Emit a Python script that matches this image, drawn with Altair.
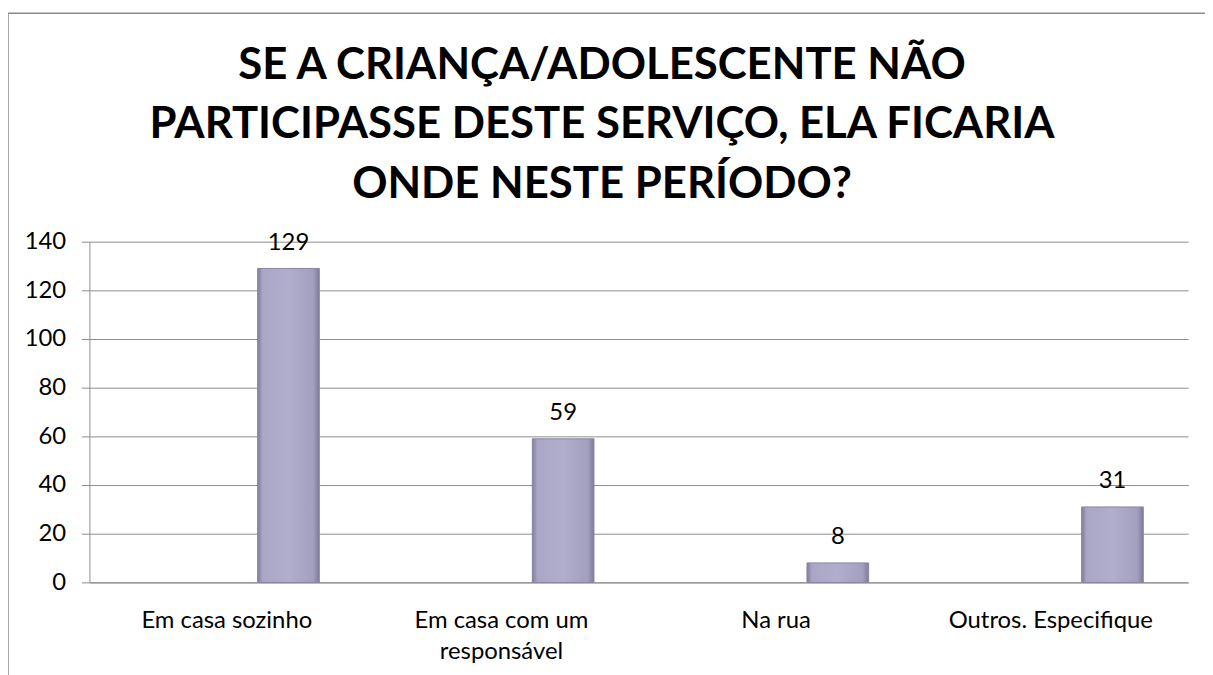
import altair as alt
import pandas as pd

categories = ["Em casa sozinho", "Em casa com um responsável", "Na rua", "Outros. Especifique"]
values = [129, 59, 8, 31]
series_slots = ["Série 1", "Série 2", "Série 3"]
bar_series = "Série 3"
y_ticks = [0, 20, 40, 60, 80, 100, 120, 140]
title_lines = ["SE A CRIANÇA/ADOLESCENTE NÃO", "PARTICIPASSE DESTE SERVIÇO, ELA FICARIA", "ONDE NESTE PERÍODO?"]

df = pd.DataFrame({"categoria": categories, "valor": values, "serie": [bar_series] * len(categories)})
df_title = pd.DataFrame({"titulo": ["\n".join(title_lines)]})

FONT = "Lato"
TFONT = "Lato"
W, H = 1106, 343

x_enc = alt.X("categoria:N", sort=categories, title=None,
              scale=alt.Scale(paddingInner=0, paddingOuter=0),
              axis=alt.Axis(labelFont=FONT, labelFontSize=24, labelColor="#000000",
                            labelAngle=0, ticks=False, domain=True, domainColor="#8c8c8c",
                            labelPadding=26, labelLineHeight=32, labelLimit=300,
                            labelExpr="datum.label == 'Em casa com um responsável' ? ['Em casa com um', 'responsável'] : datum.label"))
xoff = alt.XOffset("serie:N", scale=alt.Scale(domain=series_slots, paddingInner=0, paddingOuter=0.726))
y_enc = alt.Y("valor:Q", title=None,
              scale=alt.Scale(domain=[0, 140], nice=False),
              axis=alt.Axis(values=y_ticks, labelFont=FONT, labelFontSize=24, labelColor="#000000",
                            tickSize=8, tickColor="#8c8c8c", domainColor="#8c8c8c",
                            gridColor="#8c8c8c", gridWidth=1, labelPadding=16))

grad = alt.LinearGradient(
    gradient="linear", x1=0, y1=0, x2=1, y2=0,
    stops=[alt.GradientStop(offset=0, color="#7f7b99"),
           alt.GradientStop(offset=0.08, color="#a9a6c6"),
           alt.GradientStop(offset=0.5, color="#b0adcd"),
           alt.GradientStop(offset=0.9, color="#a29fbf"),
           alt.GradientStop(offset=1, color="#7f7b99")])

bars = alt.Chart(df).mark_bar(color=grad, stroke="#8a86a4", strokeWidth=1).encode(
    x=x_enc, xOffset=xoff, y=y_enc)

labels = alt.Chart(df).mark_text(font=FONT, fontSize=24, color="#000000", baseline="middle", dy=-26).encode(
    x=alt.X("categoria:N", sort=categories), xOffset=alt.XOffset("serie:N"), y="valor:Q", text="valor:Q")

border = alt.Chart(df_title).mark_rect(fill=None, stroke="#8c8c8c", strokeWidth=1.5, clip=False).encode(
    x=alt.value(-82), x2=alt.value(1200), y=alt.value(-230), y2=alt.value(500))

title = alt.Chart(df_title).mark_text(font=TFONT, fontSize=44, fontWeight="bold", color="#000000",
                                      lineBreak="\n", lineHeight=60, align="center", baseline="top").encode(
    x=alt.value(516), y=alt.value(-199), text="titulo:N")

chart = alt.layer(bars, labels, border, title).properties(
    width=W, height=H,
    padding={"left": 82, "top": 233, "right": 17, "bottom": 91},
    autosize=alt.AutoSizeParams(type="none"),
).configure_view(stroke=None)

chart.save("out.html", embed_options={"renderer": "svg", "actions": False})
